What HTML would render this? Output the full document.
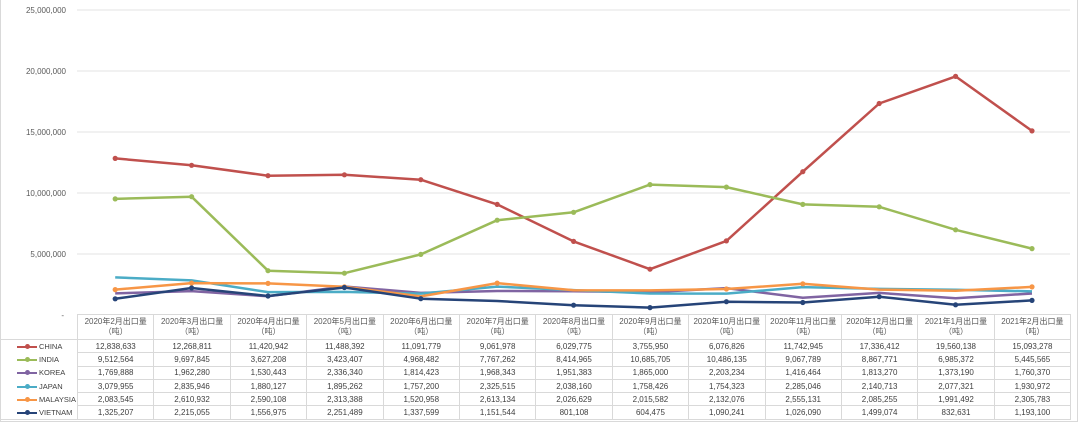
<!DOCTYPE html>
<html><head><meta charset="utf-8"><style>
body{margin:0;width:1080px;height:425px;background:#fff;overflow:hidden;font-family:"Liberation Sans","Noto Sans CJK SC",sans-serif}
#frame{position:absolute;left:0;top:0;width:1076px;height:421px;border:1px solid #d9d9d9;border-top:none}
svg{position:absolute;left:0;top:0}
table{position:absolute;left:0;top:314px;border-collapse:collapse;font-size:8px;color:#404040;table-layout:fixed;width:1070px}
td{border:1px solid #d9d9d9;text-align:center;padding:0;height:12.3px;white-space:nowrap;overflow:hidden}
td.l{text-align:left;border:none;border-left:1px solid #d9d9d9;font-size:7.5px;overflow:visible}
tr.h td{height:24px;line-height:10px;color:#595959}
tr.h td.l{border:none}
.k{display:inline-block;width:20px;height:2px;vertical-align:middle;margin:0 2px 0 16px;position:relative}
.k:after{content:"";position:absolute;left:8px;top:-2px;width:5px;height:5px;border-radius:50%;background:inherit}
</style></head><body>
<div id="frame"></div>
<svg width="1080" height="425" font-family="Liberation Sans, sans-serif" font-size="8" fill="#595959">
<g stroke="#e3e3e3" stroke-width="1">
<line x1="77" x2="1070" y1="10" y2="10"/><line x1="77" x2="1070" y1="71" y2="71"/><line x1="77" x2="1070" y1="132" y2="132"/><line x1="77" x2="1070" y1="193" y2="193"/><line x1="77" x2="1070" y1="254" y2="254"/>
</g>
<g text-anchor="end">
<text x="66" y="13">25,000,000</text><text x="66" y="74">20,000,000</text><text x="66" y="135">15,000,000</text><text x="66" y="196">10,000,000</text><text x="66" y="257">5,000,000</text><text x="64" y="318">-</text>
</g>
<g fill="none" stroke-width="2.5" stroke-linejoin="round">
<polyline stroke="#c0504d" points="115.2,158.4 191.6,165.3 268,175.7 344.4,174.8 420.8,179.7 497.2,204.4 573.6,241.4 650,269.2 726.4,240.9 802.8,171.7 879.2,103.5 955.6,76.4 1032,130.9"/>
<polyline stroke="#9bbb59" points="115.2,198.9 191.6,196.7 268,270.7 344.4,273.2 420.8,254.4 497.2,220.2 573.6,212.3 650,184.6 726.4,187.1 802.8,204.4 879.2,206.8 955.6,229.8 1032,248.6"/>
<polyline stroke="#8064a2" points="115.2,293.4 191.6,291.1 268,296.3 344.4,286.5 420.8,292.9 497.2,291 573.6,291.2 650,292.2 726.4,288.1 802.8,297.7 879.2,292.9 955.6,298.2 1032,293.5"/>
<polyline stroke="#4bacc6" points="115.2,277.4 191.6,280.4 268,292.1 344.4,291.9 420.8,293.6 497.2,286.6 573.6,290.1 650,293.5 726.4,293.6 802.8,287.1 879.2,288.9 955.6,289.7 1032,291.4"/>
<polyline stroke="#f79646" points="115.2,289.6 191.6,283.1 268,283.4 344.4,286.8 420.8,296.4 497.2,283.1 573.6,290.3 650,290.4 726.4,289 802.8,283.8 879.2,289.6 955.6,290.7 1032,286.9"/>
<polyline stroke="#264478" points="115.2,298.8 191.6,288 268,296 344.4,287.5 420.8,298.7 497.2,301 573.6,305.2 650,307.6 726.4,301.7 802.8,302.5 879.2,296.7 955.6,304.8 1032,300.4"/>
</g>
</svg>
<svg width="1080" height="425">
<g fill="#c0504d"><circle cx="115.2" cy="158.4" r="2.6"/><circle cx="191.6" cy="165.3" r="2.6"/><circle cx="268" cy="175.7" r="2.6"/><circle cx="344.4" cy="174.8" r="2.6"/><circle cx="420.8" cy="179.7" r="2.6"/><circle cx="497.2" cy="204.4" r="2.6"/><circle cx="573.6" cy="241.4" r="2.6"/><circle cx="650" cy="269.2" r="2.6"/><circle cx="726.4" cy="240.9" r="2.6"/><circle cx="802.8" cy="171.7" r="2.6"/><circle cx="879.2" cy="103.5" r="2.6"/><circle cx="955.6" cy="76.4" r="2.6"/><circle cx="1032" cy="130.9" r="2.6"/></g>
<g fill="#9bbb59"><circle cx="115.2" cy="198.9" r="2.6"/><circle cx="191.6" cy="196.7" r="2.6"/><circle cx="268" cy="270.7" r="2.6"/><circle cx="344.4" cy="273.2" r="2.6"/><circle cx="420.8" cy="254.4" r="2.6"/><circle cx="497.2" cy="220.2" r="2.6"/><circle cx="573.6" cy="212.3" r="2.6"/><circle cx="650" cy="184.6" r="2.6"/><circle cx="726.4" cy="187.1" r="2.6"/><circle cx="802.8" cy="204.4" r="2.6"/><circle cx="879.2" cy="206.8" r="2.6"/><circle cx="955.6" cy="229.8" r="2.6"/><circle cx="1032" cy="248.6" r="2.6"/></g>
<g fill="#f79646"><circle cx="115.2" cy="289.6" r="2.6"/><circle cx="191.6" cy="283.1" r="2.6"/><circle cx="268" cy="283.4" r="2.6"/><circle cx="344.4" cy="286.8" r="2.6"/><circle cx="497.2" cy="283.1" r="2.6"/><circle cx="726.4" cy="289" r="2.6"/><circle cx="802.8" cy="283.8" r="2.6"/><circle cx="1032" cy="286.9" r="2.6"/></g>
<g fill="#264478"><circle cx="115.2" cy="298.8" r="2.6"/><circle cx="191.6" cy="288" r="2.6"/><circle cx="268" cy="296" r="2.6"/><circle cx="344.4" cy="287.5" r="2.6"/><circle cx="420.8" cy="298.7" r="2.6"/><circle cx="573.6" cy="305.2" r="2.6"/><circle cx="650" cy="307.6" r="2.6"/><circle cx="726.4" cy="301.7" r="2.6"/><circle cx="802.8" cy="302.5" r="2.6"/><circle cx="879.2" cy="296.7" r="2.6"/><circle cx="955.6" cy="304.8" r="2.6"/><circle cx="1032" cy="300.4" r="2.6"/></g>
</svg>
<table>
<colgroup><col style="width:77px"><col span="13" style="width:76.4px"></colgroup>
<tr class="h"><td class="l"></td><td>2020年2月出口量<br>（吨）</td><td>2020年3月出口量<br>（吨）</td><td>2020年4月出口量<br>（吨）</td><td>2020年5月出口量<br>（吨）</td><td>2020年6月出口量<br>（吨）</td><td>2020年7月出口量<br>（吨）</td><td>2020年8月出口量<br>（吨）</td><td>2020年9月出口量<br>（吨）</td><td>2020年10月出口量<br>（吨）</td><td>2020年11月出口量<br>（吨）</td><td>2020年12月出口量<br>（吨）</td><td>2021年1月出口量<br>（吨）</td><td>2021年2月出口量<br>（吨）</td></tr>
<tr><td class="l" style="border-top:1px solid #d9d9d9"><span class="k" style="background:#c0504d"></span>CHINA</td><td>12,838,633</td><td>12,268,811</td><td>11,420,942</td><td>11,488,392</td><td>11,091,779</td><td>9,061,978</td><td>6,029,775</td><td>3,755,950</td><td>6,076,826</td><td>11,742,945</td><td>17,336,412</td><td>19,560,138</td><td>15,093,278</td></tr>
<tr><td class="l"><span class="k" style="background:#9bbb59"></span>INDIA</td><td>9,512,564</td><td>9,697,845</td><td>3,627,208</td><td>3,423,407</td><td>4,968,482</td><td>7,767,262</td><td>8,414,965</td><td>10,685,705</td><td>10,486,135</td><td>9,067,789</td><td>8,867,771</td><td>6,985,372</td><td>5,445,565</td></tr>
<tr><td class="l"><span class="k" style="background:#8064a2"></span>KOREA</td><td>1,769,888</td><td>1,962,280</td><td>1,530,443</td><td>2,336,340</td><td>1,814,423</td><td>1,968,343</td><td>1,951,383</td><td>1,865,000</td><td>2,203,234</td><td>1,416,464</td><td>1,813,270</td><td>1,373,190</td><td>1,760,370</td></tr>
<tr><td class="l"><span class="k" style="background:#4bacc6"></span>JAPAN</td><td>3,079,955</td><td>2,835,946</td><td>1,880,127</td><td>1,895,262</td><td>1,757,200</td><td>2,325,515</td><td>2,038,160</td><td>1,758,426</td><td>1,754,323</td><td>2,285,046</td><td>2,140,713</td><td>2,077,321</td><td>1,930,972</td></tr>
<tr><td class="l"><span class="k" style="background:#f79646"></span>MALAYSIA</td><td>2,083,545</td><td>2,610,932</td><td>2,590,108</td><td>2,313,388</td><td>1,520,958</td><td>2,613,134</td><td>2,026,629</td><td>2,015,582</td><td>2,132,076</td><td>2,555,131</td><td>2,085,255</td><td>1,991,492</td><td>2,305,783</td></tr>
<tr><td class="l" style="border-bottom:1px solid #d9d9d9"><span class="k" style="background:#264478"></span>VIETNAM</td><td>1,325,207</td><td>2,215,055</td><td>1,556,975</td><td>2,251,489</td><td>1,337,599</td><td>1,151,544</td><td>801,108</td><td>604,475</td><td>1,090,241</td><td>1,026,090</td><td>1,499,074</td><td>832,631</td><td>1,193,100</td></tr>
</table>
</body></html>
